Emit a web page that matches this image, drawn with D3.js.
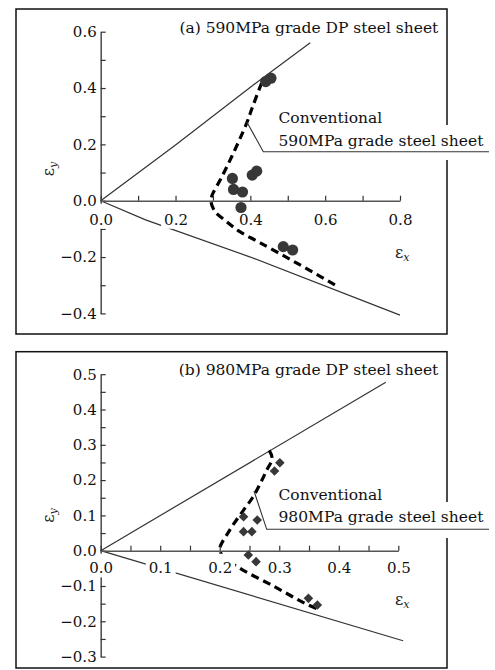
<!DOCTYPE html>
<html>
<head>
<meta charset="utf-8">
<script src="https://cdn.jsdelivr.net/npm/d3@7"></script>
<style>
body { margin: 0; background: #fff; }
svg { display: block; font-family: "DejaVu Serif", serif; }
</style>
</head>
<body>
<svg id="chart" width="495" height="670"></svg>
<script>
// ---- panel (a): 590MPa grade DP steel sheet ----
var aPointX = [0.441, 0.455, 0.405, 0.417, 0.352, 0.355, 0.379, 0.375, 0.488, 0.513];
var aPointY = [0.423, 0.435, 0.091, 0.105, 0.079, 0.040, 0.031, -0.024, -0.163, -0.175];
var aConvX = [0.43, 0.405, 0.39, 0.35, 0.32, 0.298, 0.295, 0.306, 0.337, 0.372, 0.413, 0.453, 0.533, 0.626];
var aConvY = [0.418, 0.33, 0.275, 0.156, 0.075, 0.02, -0.005, -0.039, -0.0745, -0.11, -0.14, -0.169, -0.228, -0.299];
var aUpperX = [0, 0.2, 0.4, 0.56];
var aUpperY = [0, 0.198, 0.403, 0.561];
var aLowerX = [0, 0.12, 0.4, 0.8];
var aLowerY = [0, -0.068, -0.2, -0.406];
var aXTicks = [0, 0.1, 0.2, 0.3, 0.4, 0.5, 0.6, 0.7, 0.8];
var aXLabels = [0, 0.2, 0.4, 0.6, 0.8];
var aYTicks = [-0.4, -0.3, -0.2, -0.1, 0, 0.1, 0.2, 0.3, 0.4, 0.5, 0.6];
var aYLabels = [-0.4, -0.2, 0, 0.2, 0.4, 0.6];

// ---- panel (b): 980MPa grade DP steel sheet ----
var bPointX = [0.301, 0.292, 0.240, 0.263, 0.240, 0.254, 0.248, 0.261, 0.349, 0.364];
var bPointY = [0.249, 0.226, 0.096, 0.087, 0.054, 0.054, -0.012, -0.031, -0.135, -0.154];
var bConvX = [0.283, 0.288, 0.278, 0.268, 0.255, 0.24, 0.217, 0.2, 0.205, 0.234, 0.29, 0.343, 0.368];
var bConvY = [0.284, 0.262, 0.225, 0.19, 0.15, 0.115, 0.059, 0.005, -0.015, -0.05, -0.1, -0.149, -0.168];
var bUpperX = [0, 0.479];
var bUpperY = [0, 0.477];
var bLowerX = [0, 0.508];
var bLowerY = [0, -0.255];
var bXTicks = [0, 0.05, 0.1, 0.15, 0.2, 0.25, 0.3, 0.35, 0.4, 0.45, 0.5];
var bXLabels = [0, 0.1, 0.2, 0.3, 0.4, 0.5];
var bYTicks = [-0.3, -0.25, -0.2, -0.15, -0.1, -0.05, 0, 0.05, 0.1, 0.15, 0.2, 0.25, 0.3, 0.35, 0.4, 0.45, 0.5];
var bYLabels = [-0.3, -0.2, -0.1, 0, 0.1, 0.2, 0.3, 0.4, 0.5];

var panels = [
  {
    title: "(a) 590MPa grade DP steel sheet",
    note: ["Conventional", "590MPa grade steel sheet"],
    frame: [16, 9, 447, 334],
    xDomain: [0, 0.8], xRange: [100.7, 400],
    yDomain: [-0.4, 0.6], yRange: [313.4, 31.7],
    xTicks: aXTicks, xLabels: aXLabels, yTicks: aYTicks, yLabels: aYLabels,
    px: aPointX, py: aPointY, cx: aConvX, cy: aConvY,
    ux: aUpperX, uy: aUpperY, lx: aLowerX, ly: aLowerY,
    marker: "circle", xPad: 13.4,
    titleY: 33.3, noteY: 123.3, leader: [246.7, 121.7, 263.3, 151.7], gap: [125, 160],
    exPos: [395, 258], eyPos: [54, 169]
  },
  {
    title: "(b) 980MPa grade DP steel sheet",
    note: ["Conventional", "980MPa grade steel sheet"],
    frame: [16, 351.7, 447, 668],
    xDomain: [0, 0.5], xRange: [100.7, 398.3],
    yDomain: [-0.3, 0.5], yRange: [656.6, 374.2],
    xTicks: bXTicks, xLabels: bXLabels, yTicks: bYTicks, yLabels: bYLabels,
    px: bPointX, py: bPointY, cx: bConvX, cy: bConvY,
    ux: bUpperX, uy: bUpperY, lx: bLowerX, ly: bLowerY,
    marker: "diamond", xPad: 12,
    titleY: 375, noteY: 499.5, leader: [254, 491, 266.7, 529.3], gap: [502, 538],
    exPos: [395, 605], eyPos: [54, 515.5]
  }
];

var svg = d3.select("#chart");
var fmt = d3.format(".1f");
var markColor = "#383838";

panels.forEach(function(p) {
  var x = d3.scaleLinear().domain(p.xDomain).range(p.xRange);
  var y = d3.scaleLinear().domain(p.yDomain).range(p.yRange);
  var g = svg.append("g");

  // frame
  g.append("rect")
    .attr("x", p.frame[0]).attr("y", p.frame[1])
    .attr("width", p.frame[2] - p.frame[0]).attr("height", p.frame[3] - p.frame[1])
    .attr("fill", "none").attr("stroke", "#111").attr("stroke-width", 1.5);

  // limit lines
  var line = d3.line().x(function(d) { return x(d[0]); }).y(function(d) { return y(d[1]); });
  [[p.ux, p.uy], [p.lx, p.ly]].forEach(function(s) {
    g.append("path")
      .attr("d", line(d3.zip(s[0], s[1])))
      .attr("fill", "none").attr("stroke", "#333").attr("stroke-width", 1.2);
  });

  // conventional steel sheet (dashed)
  var curve = d3.line().curve(d3.curveCatmullRom.alpha(0.5))
    .x(function(d) { return x(d[0]); }).y(function(d) { return y(d[1]); });
  g.append("path")
    .attr("d", curve(d3.zip(p.cx, p.cy)))
    .attr("fill", "none").attr("stroke", "#000").attr("stroke-width", 3.2)
    .attr("stroke-dasharray", "8,5");

  // y axis
  var yAxis = d3.axisLeft(y).tickValues(p.yTicks).tickSize(-5).tickSizeOuter(0).tickPadding(4)
    .tickFormat(function(d) { return p.yLabels.indexOf(d) >= 0 ? fmt(d) : ""; });
  var gy = g.append("g").attr("transform", "translate(" + x(0) + ",0)").call(yAxis);
  gy.selectAll("text").attr("font-family", "DejaVu Serif").attr("font-size", 15).attr("fill", "#111");

  // x axis
  var xAxis = d3.axisBottom(x).tickValues(p.xTicks).tickSize(-5).tickSizeOuter(0).tickPadding(p.xPad)
    .tickFormat(function(d) { return p.xLabels.indexOf(d) >= 0 ? fmt(d) : ""; });
  var gx = g.append("g").attr("transform", "translate(0," + y(0) + ")").call(xAxis);
  gx.selectAll("text").attr("font-family", "DejaVu Serif").attr("font-size", 15).attr("fill", "#111");
  // white boxes behind x tick labels (the one at 0 only breaks the y axis)
  gx.selectAll(".tick").each(function(d) {
    var t = d3.select(this).select("text");
    if (!t.text()) return;
    var b = t.node().getBBox();
    var bx = d === 0 ? -4 : b.x - 3;
    var bw = d === 0 ? 8 : b.width + 6;
    d3.select(this).insert("rect", "text")
      .attr("x", bx).attr("y", 3)
      .attr("width", bw).attr("height", b.y + b.height - 3)
      .attr("fill", "#fff");
  });
  [gx, gy].forEach(function(a) {
    a.select(".domain").attr("stroke", "#555").attr("stroke-width", 1.6);
    a.selectAll(".tick line").attr("stroke", "#333").attr("stroke-width", 1.2);
  });

  // measured points
  var pts = d3.zip(p.px, p.py);
  if (p.marker === "circle") {
    g.selectAll("circle.pt").data(pts).enter().append("circle")
      .attr("class", "pt")
      .attr("cx", function(d) { return x(d[0]); })
      .attr("cy", function(d) { return y(d[1]); })
      .attr("r", 5.6).attr("fill", markColor);
  } else {
    var sym = d3.symbol().type(d3.symbolSquare).size(46);
    g.selectAll("path.pt").data(pts).enter().append("path")
      .attr("class", "pt")
      .attr("d", sym)
      .attr("transform", function(d) { return "translate(" + x(d[0]) + "," + y(d[1]) + ") rotate(45)"; })
      .attr("fill", markColor);
  }

  // title
  g.append("text")
    .attr("x", 438.3).attr("y", p.titleY)
    .attr("text-anchor", "end").attr("font-size", 15.5).attr("fill", "#111")
    .text(p.title);

  // annotation
  g.append("rect")
    .attr("x", p.leader[2] + 3).attr("y", p.gap[0])
    .attr("width", 492 - p.leader[2] - 3).attr("height", p.gap[1] - p.gap[0])
    .attr("fill", "#fff");
  g.append("path")
    .attr("d", "M" + p.leader[0] + "," + p.leader[1] + "L" + p.leader[2] + "," + p.leader[3] + "H489")
    .attr("fill", "none").attr("stroke", "#333").attr("stroke-width", 1.1);
  p.note.forEach(function(s, i) {
    g.append("text")
      .attr("x", 278.5).attr("y", p.noteY + i * 22.5)
      .attr("font-size", 15.5).attr("fill", "#111")
      .text(s);
  });

  // axis names
  var ex = g.append("text").attr("x", p.exPos[0]).attr("y", p.exPos[1])
    .attr("font-size", 16).attr("fill", "#222");
  ex.append("tspan").text("ε");
  ex.append("tspan").attr("font-size", 11).attr("font-style", "italic").attr("dy", 3).text("x");

  var ey = g.append("text")
    .attr("transform", "translate(" + p.eyPos[0] + "," + p.eyPos[1] + ") rotate(-90)")
    .attr("text-anchor", "middle").attr("font-size", 16).attr("fill", "#222");
  ey.append("tspan").text("ε");
  ey.append("tspan").attr("font-size", 11).attr("font-style", "italic").attr("dy", 3).text("y");
});
</script>
</body>
</html>
